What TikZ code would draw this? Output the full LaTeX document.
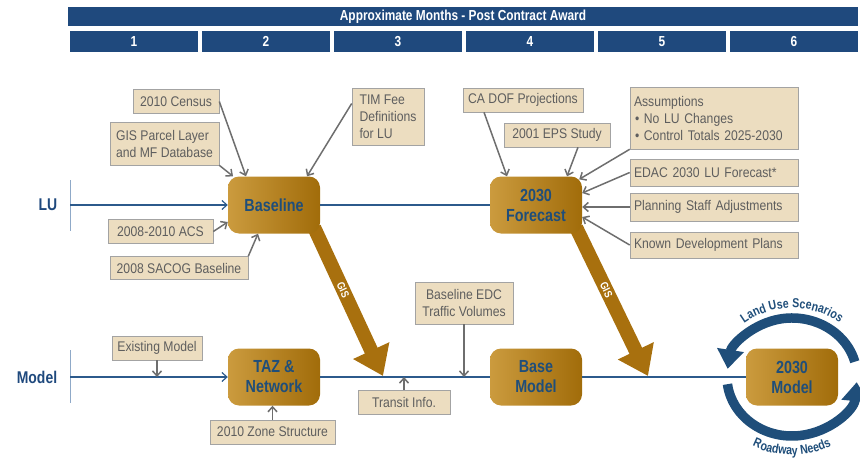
\documentclass[tikz,border=0pt]{standalone}
\usepackage{fontspec}
\setmainfont{Liberation Sans}
\newfontfamily\narrowfont[FakeStretch=0.87]{Liberation Sans}
\newfontfamily\heavyfont[FakeStretch=0.82]{Liberation Sans}
\usetikzlibrary{arrows.meta, positioning, calc, decorations.text}

\definecolor{hdrblue}{HTML}{1F497D}
\definecolor{lineblue}{HTML}{2C5A8C}
\definecolor{tickblue}{HTML}{8FA9C8}
\definecolor{tanfill}{HTML}{ECDDC0}
\definecolor{tanline}{HTML}{A3A3A3}
\definecolor{tantext}{HTML}{5E5E5E}
\definecolor{feedgray}{HTML}{6E6E6E}
\definecolor{goldL}{HTML}{CB9B3E}
\definecolor{goldR}{HTML}{A16C0A}
\definecolor{gisgold}{HTML}{A8700E}
\definecolor{stageblue}{HTML}{1F4E7A}

\pgfdeclarelayer{bg}
\pgfsetlayers{bg,main}

\begin{document}
\begin{tikzpicture}[x=1pt,y=-1pt,
  monthcell/.style={fill=hdrblue, text=white, font=\heavyfont\bfseries\fontsize{14.5}{14.5}\selectfont, minimum width=128pt, minimum height=21pt, inner sep=0pt},
  inbox/.style={draw=tanline, fill=tanfill, text=tantext, font=\narrowfont\fontsize{14}{17}\selectfont, inner sep=3pt, minimum height=24pt, line width=0.6pt, align=left},
  rightbox/.style={inbox, text width=160pt, inner sep=4pt},
  stagebox/.style={rounded corners=11pt, left color=goldL, right color=goldR, text=stageblue, font=\heavyfont\bfseries\fontsize{17.5}{20}\selectfont, minimum width=92pt, minimum height=57pt, align=center},
  sidelabel/.style={text=hdrblue, font=\heavyfont\bfseries\fontsize{17}{17}\selectfont},
  feedline/.style={draw=feedgray, line width=1.5pt, -{Straight Barb[length=5pt,width=9pt]}},
  flowline/.style={draw=lineblue, line width=1.2pt},
  tickline/.style={draw=tickblue, line width=1pt},
  gisarrow/.style={draw=gisgold, line width=14pt, -{Triangle[width=38pt,length=28pt]}},
  gislabel/.style={text=white, font=\heavyfont\bfseries\fontsize{11}{11}\selectfont, inner sep=0pt},
  cyclearrow/.style={draw=stageblue, line width=9.5pt, -{Triangle[width=26pt,length=19pt]}},
]

\useasboundingbox (0,0) rectangle (860,463);

% header
\node[monthcell, minimum width=790pt, minimum height=19pt] (title) at (463,16.5) {Approximate Months - Post Contract Award};
\foreach \m in {1,...,6}
  \node[monthcell] (month\m) at ({134+(\m-1)*132},41.5) {\m};

% timelines
\draw[tickline] (70,180) -- (70,231);
\draw[tickline] (70,350) -- (70,403);
\coordinate (lustart) at (70,205);
\coordinate (modstart) at (70,377);
\node[sidelabel] (lu) at (48,205) {LU};
\node[sidelabel] (model) at (37,377) {Model};

% stages
\node[stagebox] (base) at (274,205) {Baseline};
\node[stagebox] (fcst) at (536,205) {2030\\Forecast};
\node[stagebox] (taz) at (274,377) {TAZ \&\\Network};
\node[stagebox] (basemod) at (536,377) {Base\\Model};
\node[stagebox] (mod30) at (792,377) {2030\\Model};

% inputs
\node[inbox, minimum width=86pt] (census) at (176,101.5) {2010 Census};
\node[inbox, minimum width=109pt, minimum height=43pt] (gisp) at (164.5,143.5) {GIS Parcel Layer\\and MF Database};
\node[inbox, minimum width=72pt, minimum height=57pt] (tim) at (388,116.5) {TIM Fee\\Definitions\\for LU};
\node[inbox, minimum width=105pt] (acs) at (160.5,231.5) {2008-2010 ACS};
\node[inbox, minimum width=138pt, minimum height=23pt] (sacog) at (179,268) {2008 SACOG Baseline};
\node[inbox, minimum width=120pt] (cadof) at (523,100) {CA DOF Projections};
\node[inbox, minimum width=106pt] (eps) at (557,135) {2001 EPS Study};
\node[rightbox, minimum height=62pt] (assump) at (714,118) {Assumptions\\\hspace{1pt}\textbullet\ No LU Changes\\\hspace{1pt}\textbullet\ Control Totals 2025-2030};
\node[rightbox, minimum height=27pt] (edac) at (714,172.5) {EDAC 2030 LU Forecast*};
\node[rightbox, minimum height=28pt] (plan) at (714,207) {Planning Staff Adjustments};
\node[rightbox, minimum height=26pt] (known) at (714,245) {Known Development Plans};
\node[inbox, minimum width=90pt] (exist) at (157,348) {Existing Model};
\node[inbox, minimum width=125pt] (zone) at (272.5,432) {2010 Zone Structure};
\node[inbox, minimum width=92pt] (transit) at (404,402) {Transit Info.};
\node[inbox, minimum width=98pt, minimum height=42pt, align=center] (edc) at (464,303) {Baseline EDC\\Traffic Volumes};

% blue flow
\draw[flowline, -{Straight Barb[length=5pt,width=9pt]}] (lustart) -- (base.west);
\draw[flowline] (base.east) -- (fcst.west);
\draw[flowline, -{Straight Barb[length=5pt,width=9pt]}] (modstart) -- (taz.west);
\draw[flowline] (taz.east) -- (basemod.west);
\draw[flowline] (basemod.east) -- (mod30.west);

% GIS hand-off
\coordinate (gistip1) at (383,376);
\coordinate (gistip2) at (648,376);
\begin{pgfonlayer}{bg}
\draw[gisarrow] ([shift={(-6pt,6pt)}]base.south east) -- node[pos=0.42, sloped, gislabel] {GIS} (gistip1);
\draw[gisarrow] ([shift={(-6pt,6pt)}]fcst.south east) -- node[pos=0.42, sloped, gislabel] {GIS} (gistip2);
\end{pgfonlayer}

% feeds into Baseline
\draw[feedline] (census.east) -- ([xshift=-28pt]base.north);
\draw[feedline] (gisp.south east) -- (base.145);
\draw[feedline] ([yshift=13pt]tim.west) -- ([xshift=33pt]base.north);
\draw[feedline] (acs.east) -- ([yshift=-17pt]base.west);
\draw[feedline] (sacog.north east) -- ([xshift=-16pt]base.south);

% feeds into Forecast
\draw[feedline] ([xshift=-39pt]cadof.south) -- ([xshift=-29pt]fcst.north);
\draw[feedline] ([xshift=21pt]eps.south) -- ([xshift=31pt]fcst.north);
\draw[feedline] (assump.south west) -- ([shift={(-3pt,-3pt)}]fcst.north east);
\draw[feedline] (edac.west) -- ([yshift=12pt]fcst.east);
\draw[feedline] (plan.west) -- (plan.west -| fcst.east);
\draw[feedline] (known.west) -- ([yshift=-12pt]fcst.east);

% feeds into model line
\draw[feedline] (exist.south) -- (exist.south |- taz.west);
\draw[feedline] (zone.north) -- (zone.north |- taz.south);
\draw[feedline] (transit.north) -- (transit.north |- taz.east);
\draw[feedline] (edc.south) -- (edc.south |- taz.east);

% scenario loop
\draw[cyclearrow] ($(mod30.center)+(-15:65 and 59)$) arc[start angle=-15, end angle=-172, x radius=65, y radius=59];
\draw[cyclearrow] ($(mod30.center)+(-187:65 and 59)$) arc[start angle=-187, end angle=-355, x radius=65, y radius=59];
\path[decorate, decoration={text along path, text align=center, text color=stageblue,
    text={|\heavyfont\bfseries\fontsize{13}{13}\selectfont|Land Use Scenarios}}]
  ($(mod30.center)+(-150:76 and 69)$) arc[start angle=-150, end angle=-30, x radius=76, y radius=69];
\path[decorate, decoration={text along path, text align=center, text color=stageblue,
    text={|\heavyfont\bfseries\fontsize{13}{13}\selectfont|Roadway Needs}}]
  ($(mod30.center)+(-235:84 and 78)$) arc[start angle=-235, end angle=-305, x radius=84, y radius=78];

\end{tikzpicture}
\end{document}
